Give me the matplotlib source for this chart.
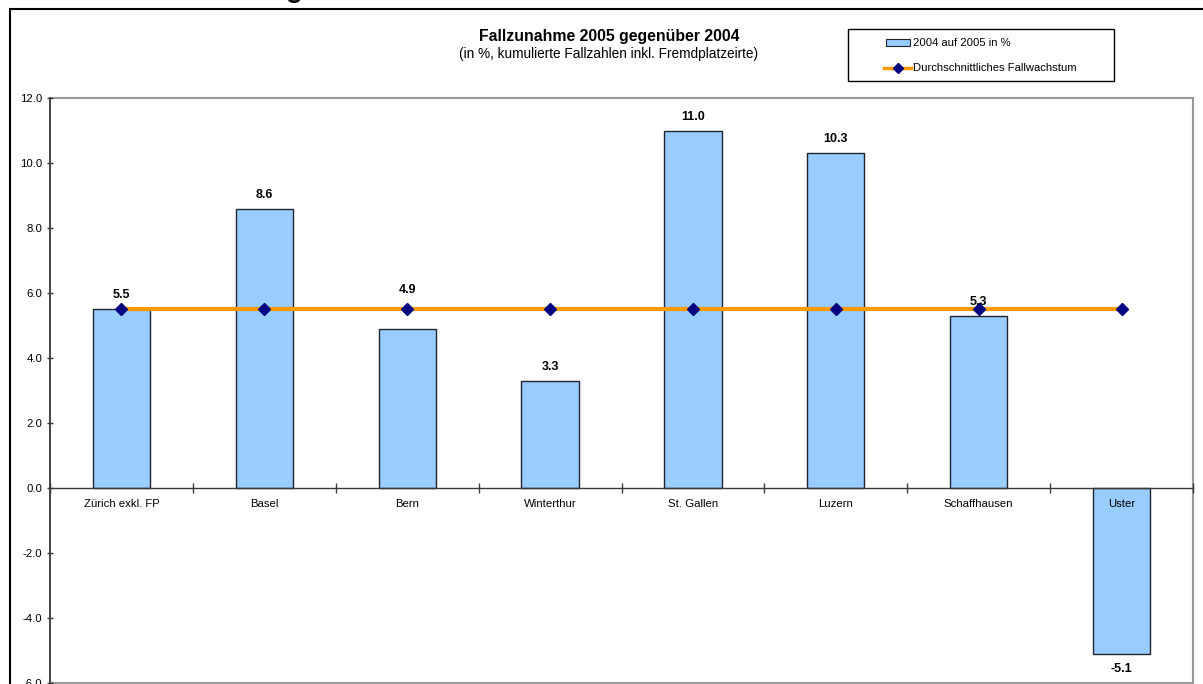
import matplotlib
matplotlib.use("Agg")
import matplotlib.pyplot as plt
from matplotlib.patches import Rectangle
from matplotlib.lines import Line2D
import numpy as np

plt.rcParams['font.family'] = ['Liberation Sans', 'DejaVu Sans']

categories = ["Zürich exkl. FP", "Basel", "Bern", "Winterthur", "St. Gallen",
              "Luzern", "Schaffhausen", "Uster"]
values = [5.5, 8.6, 4.9, 3.3, 11.0, 10.3, 5.3, -5.1]
average = [5.5] * 8
yticks = [-6, -4, -2, 0, 2, 4, 6, 8, 10, 12]

title = "Fallzunahme 2005 gegenüber 2004"
subtitle = "(in %, kumulierte Fallzahlen inkl. Fremdplatzeirte)"
legend_bar = "2004 auf 2005 in %"
legend_line = "Durchschnittliches Fallwachstum"

W, H = 1203, 684
fig = plt.figure(figsize=(W / 100, H / 100), dpi=100)

# outer chart box
fig.patches.append(Rectangle((10 / W, -0.1), 1.2, 1 - 9 / H + 0.1, transform=fig.transFigure,
                             fill=False, edgecolor='black', linewidth=1.5, zorder=0))
# cropped heading (only the descender is visible in the source)
fig.text(286 / W, 1 + 3 / H, "g", fontsize=20, fontweight='bold', ha='left', va='baseline')

ax = fig.add_axes([50 / W, 1 / H, 1143 / W, 585 / H])
ax.set_facecolor('none')
x = np.arange(len(categories))
ax.set_xlim(-0.5, len(categories) - 0.5)
ax.set_ylim(-6, 12)

ax.bar(x, values, width=0.4, color='#99CCFF', edgecolor='#1f2430', linewidth=1.0, zorder=2)
ax.plot(x, average, color='#FF9900', linewidth=3, marker='D', markersize=6,
        markerfacecolor='#000080', markeredgecolor='#000080', zorder=3, clip_on=False)

for xi, v, a in zip(x, values, average):
    if v >= 0:
        if 0.3 < a - v < 1.5:
            # label moved above the average line to avoid overlap
            ax.annotate(f"{v:.1f}", (xi, a), xytext=(0, 14), textcoords='offset points',
                        ha='center', va='center', fontsize=9, fontweight='bold', zorder=4)
        else:
            ax.annotate(f"{v:.1f}", (xi, v), xytext=(0, 10), textcoords='offset points',
                        ha='center', va='center', fontsize=9, fontweight='bold', zorder=4)
    else:
        ax.annotate(f"{v:.1f}", (xi, v), xytext=(0, -11), textcoords='offset points',
                    ha='center', va='center', fontsize=9, fontweight='bold', zorder=4)
    ax.annotate(categories[int(xi)], (xi, 0), xytext=(0, -11.5), textcoords='offset points',
                ha='center', va='center', fontsize=8.2, zorder=4)

# plot area border
ax.add_patch(Rectangle((0, 0), 1, 1, transform=ax.transAxes, fill=False,
                       edgecolor='#9a9a9a', linewidth=1.5, zorder=1, clip_on=False))

for s in ['top', 'right']:
    ax.spines[s].set_visible(False)
ax.spines['left'].set_color('#3a3a3a')
ax.spines['left'].set_linewidth(1.2)
ax.spines['bottom'].set_position(('data', 0))
ax.spines['bottom'].set_color('#3a3a3a')
ax.spines['bottom'].set_linewidth(1.0)

ax.set_yticks(yticks)
ax.set_yticklabels([f"{t:.1f}" for t in yticks], fontsize=8.2)
ax.tick_params(axis='y', direction='inout', length=5, width=1, color='#3a3a3a', pad=3)
ax.set_xticks(np.arange(len(categories) + 1) - 0.5)
ax.set_xticklabels([])
ax.tick_params(axis='x', direction='inout', length=7, width=1, color='#3a3a3a')

# titles
fig.text(609 / W, 1 - 36 / H, title, ha='center', va='center', fontsize=11.4, fontweight='bold')
fig.text(609 / W, 1 - 54 / H, subtitle, ha='center', va='center', fontsize=9.8)

# legend box
fig.patches.append(Rectangle((848 / W, 1 - 81 / H), 266 / W, 52 / H, transform=fig.transFigure,
                             fill=False, edgecolor='black', linewidth=1.0))
fig.patches.append(Rectangle((886 / W, 1 - 46 / H), 24 / W, 7 / H, transform=fig.transFigure,
                             facecolor='#99CCFF', edgecolor='#1f2430', linewidth=0.8))
fig.text(913 / W, 1 - 42.5 / H, legend_bar, ha='left', va='center', fontsize=8.1)
fig.lines.append(Line2D([884 / W, 911 / W], [1 - 68 / H, 1 - 68 / H], transform=fig.transFigure,
                        color='#FF9900', linewidth=2.5))
fig.lines.append(Line2D([897.5 / W], [1 - 68 / H], transform=fig.transFigure, marker='D',
                        markersize=5, color='#000080'))
fig.text(913 / W, 1 - 68 / H, legend_line, ha='left', va='center', fontsize=8.1)

fig.savefig("out.png", dpi=100)
